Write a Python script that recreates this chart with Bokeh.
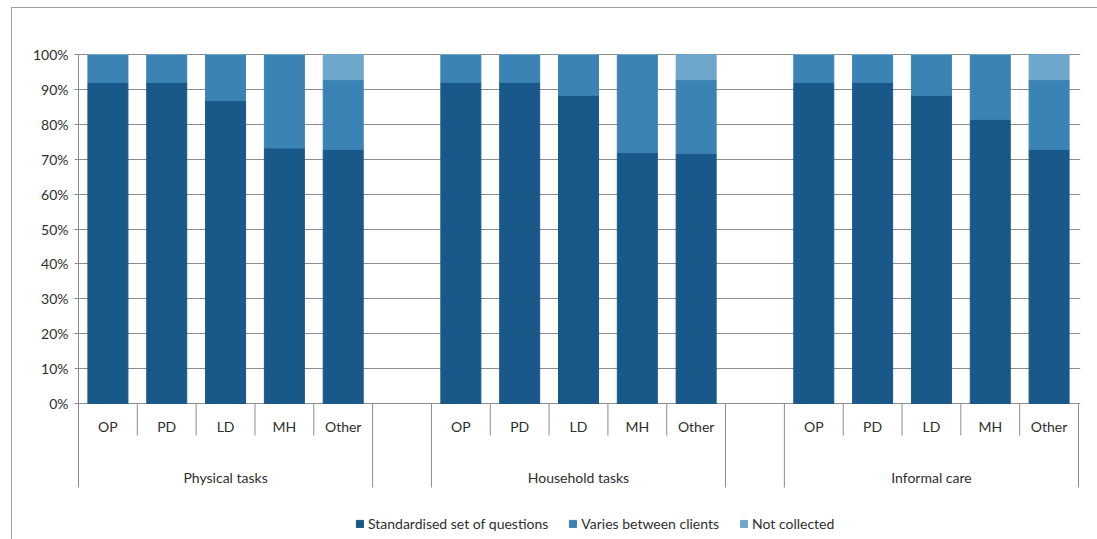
from bokeh.plotting import figure
from bokeh.models import Range1d, FixedTicker, NumeralTickFormatter, ColumnDataSource
from bokeh.core.properties import value
from bokeh.embed import file_html
from bokeh.resources import INLINE

groups = ["Physical tasks", "Household tasks", "Informal care"]
categories = ["OP", "PD", "LD", "MH", "Other"]
series_names = ["Standardised set of questions", "Varies between clients", "Not collected"]
standardised = [92.0, 92.0, 86.8, 73.2, 72.8,
                92.0, 92.0, 88.3, 71.9, 71.6,
                92.0, 92.0, 88.3, 81.4, 72.8]
varies = [8.0, 8.0, 13.2, 26.8, 20.0,
          8.0, 8.0, 11.7, 28.1, 21.2,
          8.0, 8.0, 11.7, 18.6, 20.0]
not_collected = [0.0, 0.0, 0.0, 0.0, 7.2,
                 0.0, 0.0, 0.0, 0.0, 7.2,
                 0.0, 0.0, 0.0, 0.0, 7.2]
y_ticks = [0.0, 0.1, 0.2, 0.3, 0.4, 0.5, 0.6, 0.7, 0.8, 0.9, 1.0]

colors = ["#18598a", "#3b82b5", "#6ea6cc"]
FONT = "Lato"
TXT = "#2e2e2e"
LINE = "#8c8c8c"
BORDER = "#a0a0a0"

n_cat = len(categories)
slot = n_cat + 1  # one empty slot between groups
n_slots = len(groups) * slot - 1

xs = []
for g in range(len(groups)):
    for i in range(n_cat):
        xs.append(g * slot + i + 0.5)
source = ColumnDataSource(dict(
    x=xs,
    s=[v / 100 for v in standardised],
    v=[v / 100 for v in varies],
    n=[v / 100 for v in not_collected],
    cat=categories * len(groups),
))

px_unit_y = 349.0
y_end = 1 + 1 / px_unit_y
y_start = -(539 - 403) / px_unit_y
x_end = (1097 - 78 - 17) / (1000 / n_slots)

p = figure(width=1097, height=539, output_backend="svg", toolbar_location=None,
           x_range=Range1d(0, x_end), y_range=Range1d(y_start, y_end),
           x_axis_location=None, min_border_left=78, min_border_right=17,
           min_border_top=53, min_border_bottom=0)
p.outline_line_color = None
p.background_fill_color = "white"
p.border_fill_color = None
p.styles = {
    "background": (f"linear-gradient({BORDER},{BORDER}) 11px 7px / 1px 100% no-repeat, "
                   f"linear-gradient({BORDER},{BORDER}) 11px 7px / 100% 1px no-repeat, white"),
}
p.xgrid.visible = False
p.ygrid.ticker = FixedTicker(ticks=y_ticks)
p.ygrid.grid_line_color = LINE
p.ygrid.grid_line_width = 1

ax = p.yaxis[0]
ax.ticker = FixedTicker(ticks=y_ticks)
ax.formatter = NumeralTickFormatter(format="0%")
ax.bounds = (-84 / px_unit_y, 1)
ax.axis_line_color = LINE
ax.major_tick_line_color = LINE
ax.major_tick_out = 4
ax.major_tick_in = 0
ax.minor_tick_line_color = None
ax.major_label_standoff = 6
ax.major_label_text_font = FONT
ax.major_label_text_font_size = "14px"
ax.major_label_text_color = TXT

p.vbar_stack(["s", "v", "n"], x="x", width=0.68, source=source,
             color=colors, legend_label=series_names)

# category separators (short) and group separators (long)
short_x, long_x = [], []
for g in range(len(groups)):
    for k in range(1, n_cat):
        short_x.append(g * slot + k)
    long_x.append(g * slot + n_cat)
    if g < len(groups) - 1:
        long_x.append(g * slot + slot)
short_bottom = -(435 - 403) / px_unit_y
long_bottom = -(487 - 403) / px_unit_y
p.segment(x0=short_x, y0=[0] * len(short_x), x1=short_x, y1=[short_bottom] * len(short_x),
          line_color=LINE, line_width=1)
p.segment(x0=long_x, y0=[0] * len(long_x), x1=long_x, y1=[long_bottom] * len(long_x),
          line_color=LINE, line_width=1)

p.text(x="x", y=-(426 - 403) / px_unit_y, text="cat", source=source,
       text_font=value(FONT), text_font_size="14px", text_color=TXT,
       text_align="center", text_baseline="middle")
gx = [g * slot + n_cat / 2 for g in range(len(groups))]
p.text(x=gx, y=[-(477 - 403) / px_unit_y] * len(groups), text=groups,
       text_font=value(FONT), text_font_size="14px", text_color=TXT,
       text_align="center", text_baseline="middle")

lg = p.legend[0]
lg.orientation = "horizontal"
lg.location = (277, 7)
lg.glyph_width = 9
lg.glyph_height = 9
lg.label_height = 16
lg.label_standoff = 4
lg.spacing = 20
lg.padding = 0
lg.margin = 0
lg.border_line_color = None
lg.background_fill_alpha = 0
lg.label_text_font = FONT
lg.label_text_font_size = "14px"
lg.label_text_color = TXT

open("out.html", "w").write(file_html(p, INLINE))
